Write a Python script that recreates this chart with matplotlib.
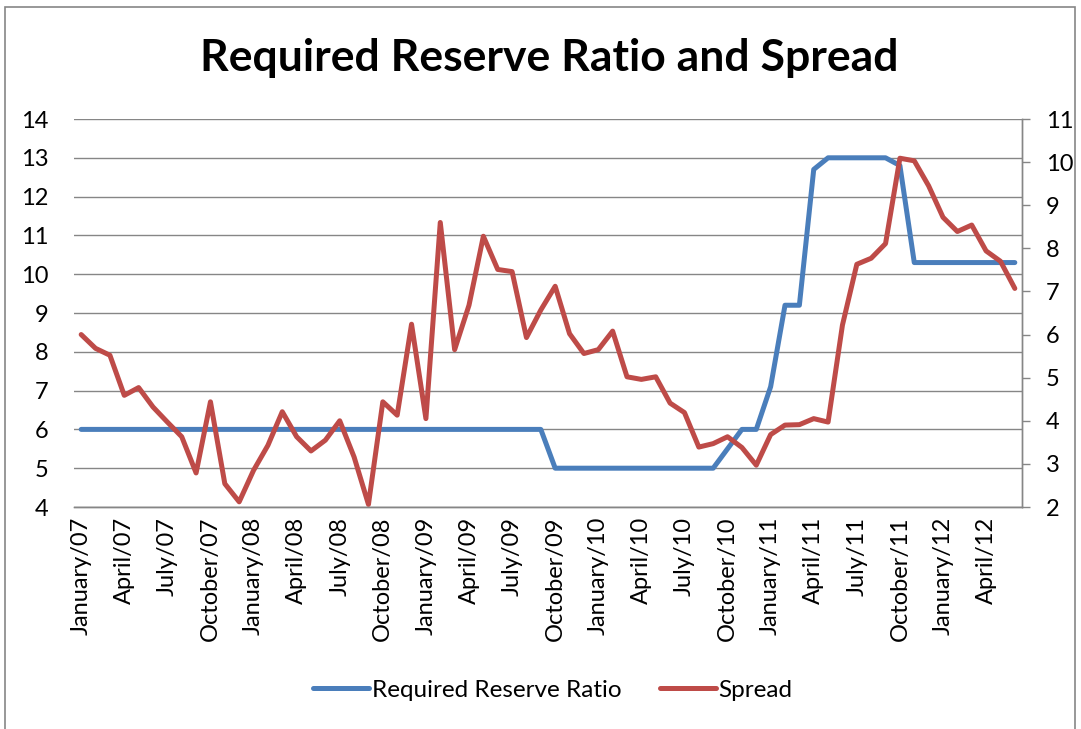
import matplotlib
matplotlib.use("Agg")
import matplotlib.pyplot as plt
from matplotlib.patches import Rectangle

plt.rcParams['font.family'] = ['Lato', 'DejaVu Sans']

# monthly observations, January 2007 - June 2012
reserve_ratio = [6, 6, 6, 6, 6, 6, 6, 6, 6, 6,
                 6, 6, 6, 6, 6, 6, 6, 6, 6, 6,
                 6, 6, 6, 6, 6, 6, 6, 6, 6, 6,
                 6, 6, 6, 5, 5, 5, 5, 5, 5, 5,
                 5, 5, 5, 5, 5, 5.5, 6, 6, 7.1, 9.2,
                 9.2, 12.7, 13, 13, 13, 13, 13, 12.8, 10.3, 10.3,
                 10.3, 10.3, 10.3, 10.3, 10.3, 10.3]
spread = [6.00, 5.68, 5.52, 4.59, 4.77, 4.32, 3.97, 3.63, 2.79, 4.44,
          2.54, 2.12, 2.85, 3.43, 4.21, 3.63, 3.30, 3.55, 4.00, 3.16,
          2.06, 4.44, 4.13, 6.24, 4.05, 8.60, 5.65, 6.68, 8.28, 7.51,
          7.46, 5.93, 6.57, 7.12, 6.02, 5.56, 5.65, 6.08, 5.02, 4.96,
          5.02, 4.41, 4.19, 3.39, 3.47, 3.63, 3.38, 2.97, 3.68, 3.90,
          3.91, 4.05, 3.97, 6.22, 7.63, 7.77, 8.11, 10.09, 10.03, 9.45,
          8.72, 8.39, 8.54, 7.94, 7.70, 7.07]
tick_labels = ["January/07", "April/07", "July/07", "October/07",
               "January/08", "April/08", "July/08", "October/08",
               "January/09", "April/09", "July/09", "October/09",
               "January/10", "April/10", "July/10", "October/10",
               "January/11", "April/11", "July/11", "October/11",
               "January/12", "April/12"]
left_ticks = [4, 5, 6, 7, 8, 9, 10, 11, 12, 13, 14]
right_ticks = [2, 3, 4, 5, 6, 7, 8, 9, 10, 11]

blue = '#4A7EBB'
red = '#BE4B48'
grey = '#868686'

W, H = 1081, 729
fig = plt.figure(figsize=(W / 100, H / 100), dpi=100)
ax = fig.add_axes([74 / W, (H - 507) / H, (1022 - 74) / W, (507 - 119) / H])
ax2 = ax.twinx()

x = list(range(len(spread)))
ax.plot(x, reserve_ratio, color=blue, linewidth=3.6, solid_capstyle='round',
        solid_joinstyle='round', label='Required Reserve Ratio')
ax2.plot(x, spread, color=red, linewidth=3.6, solid_capstyle='round',
         solid_joinstyle='round', label='Spread')

ax.set_xlim(-0.5, len(spread) - 0.5)
ax.set_ylim(4, 14)
ax.set_yticks(left_ticks)
ax2.set_ylim(2, 11)
ax2.set_yticks(right_ticks)
ax.set_xticks(list(range(0, len(spread), 3)))
ax.set_xticklabels(tick_labels, rotation=90, fontsize=17)
ax.tick_params(axis='x', length=0, pad=7)
ax.tick_params(axis='y', length=0, pad=18.5, labelsize=17)
ax2.tick_params(axis='y', length=5.5, width=1, color=grey, pad=11.5, labelsize=17)

ax.yaxis.grid(True, color=grey, linewidth=1.0)
ax.set_axisbelow(True)
for a in (ax, ax2):
    a.spines['top'].set_visible(False)
    a.spines['left'].set_visible(False)
    a.spines['bottom'].set_color(grey)
    a.spines['right'].set_color(grey)
    a.spines['bottom'].set_linewidth(1.0)
    a.spines['right'].set_linewidth(1.0)

fig.text(549 / W, 1 - 58 / H, "Required Reserve Ratio and Spread",
         ha='center', va='center', fontsize=32, fontweight='bold')

h1, l1 = ax.get_legend_handles_labels()
h2, l2 = ax2.get_legend_handles_labels()
fig.legend(h1 + h2, l1 + l2, loc='center', bbox_to_anchor=(553 / W, 1 - 690 / H),
           ncol=2, frameon=False, fontsize=17.5, handlelength=2.3,
           handletextpad=0.1, columnspacing=1.6)

# chart area border
fig.patches.append(Rectangle((5 / W, -0.05), (1075 - 5) / W, 1.05 - 7 / H,
                             transform=fig.transFigure, fill=False,
                             edgecolor=grey, linewidth=1.2))

fig.savefig("out.png", dpi=100)
